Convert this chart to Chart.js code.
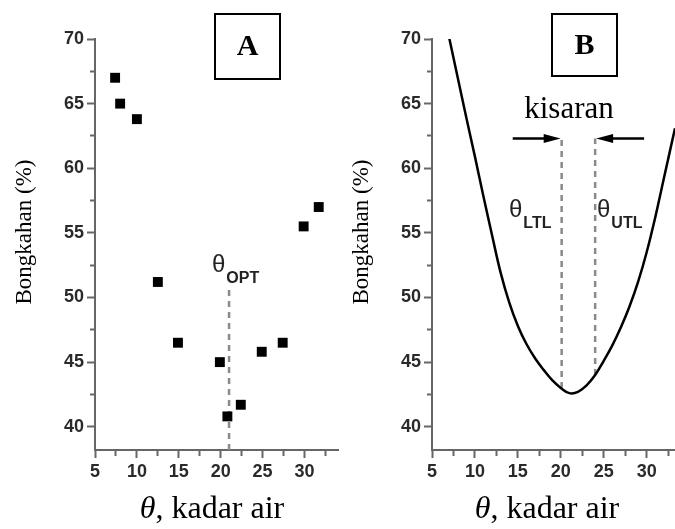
<!DOCTYPE html>
<html>
<head>
<meta charset="utf-8">
<script src="https://cdn.jsdelivr.net/npm/chart.js@4.4.0/dist/chart.umd.min.js"></script>
<style>
  body { margin: 0; background: #fff; }
  #wrap { position: relative; width: 675px; height: 529px; overflow: hidden; }
  #chartA { position: absolute; left: 0; top: 0; }
  #chartB { position: absolute; left: 345px; top: 0; }
</style>
</head>
<body>
<div id="wrap">
  <canvas id="chartA" width="345" height="529"></canvas>
  <canvas id="chartB" width="330" height="529"></canvas>
</div>
<script>
// panel A - titik pengamatan
const kadarAirA = [7.4, 8.0, 10.0, 12.5, 14.9, 19.9, 20.8, 22.4, 24.9, 27.4, 29.9, 31.7];
const bongkahanA = [67.0, 65.0, 63.8, 51.2, 46.5, 45.0, 40.8, 41.7, 45.8, 46.5, 55.5, 57.0];
const thetaOpt = 21.0;
const garisOpt = [38.2, 50.6];

// panel B - kurva
const kadarAirB = [7.0, 8, 9, 10, 11, 12, 13, 14, 15, 16, 17, 18, 19, 20, 21, 22, 23, 24, 25, 26, 27, 28, 29, 30, 31, 32, 33.3];
const bongkahanB = [70.1, 67.0, 63.9, 60.9, 57.8, 54.8, 51.9, 49.6, 47.8, 46.4, 45.3, 44.4, 43.6, 43.0, 42.6, 42.7, 43.2, 44.0, 45.1, 46.3, 47.7, 49.3, 51.2, 53.5, 56.2, 59.2, 63.1];
const thetaBatas = [20.1, 24.0];      // LTL, UTL
const bawahBatas = [43.0, 44.0];
const atasBatas = 62.3;
const panahDari = [14.4, 29.7];

// sumbu
const tickX = [5, 7.5, 10, 12.5, 15, 17.5, 20, 22.5, 25, 27.5, 30, 32.5];
const labelX = [5, 10, 15, 20, 25, 30];
const tickY = [40, 42.5, 45, 47.5, 50, 52.5, 55, 57.5, 60, 62.5, 65, 67.5, 70];
const labelY = [40, 45, 50, 55, 60, 65, 70];

const tickFont = { family: '"Liberation Sans", Arial, sans-serif', size: 18, weight: 'bold' };
const serif = '"Liberation Serif", "Times New Roman", serif';

function opsiSumbu(xMax, lebarY) {
  return {
    responsive: false,
    animation: false,
    layout: { padding: { top: 39, left: 0, right: 0, bottom: 0 } },
    plugins: { legend: { display: false }, tooltip: { enabled: false } },
    scales: {
      x: {
        type: 'linear', min: 5, max: xMax,
        afterBuildTicks: s => { s.ticks = tickX.map(v => ({ value: v })); },
        afterFit: s => { s.height = 79; },
        border: { display: true, color: '#666', width: 2 },
        grid: {
          drawOnChartArea: false, tickLength: 8, tickColor: '#666', tickWidth: 2,
          tickBorderDash: c => (c.tick && !labelX.includes(c.tick.value)) ? [5, 20] : []
        },
        ticks: {
          font: tickFont, color: '#2a2a2a', padding: 3, maxRotation: 0, autoSkip: false,
          callback: v => labelX.includes(v) ? String(v) : ''
        }
      },
      y: {
        type: 'linear', min: 38.2, max: 70,
        afterBuildTicks: s => { s.ticks = tickY.map(v => ({ value: v })); },
        afterFit: s => { s.width = lebarY; },
        border: { display: true, color: '#666', width: 2 },
        grid: {
          drawOnChartArea: false, tickLength: 8, tickColor: '#666', tickWidth: 2,
          tickBorderDash: c => (c.tick && !labelY.includes(c.tick.value)) ? [0, 3, 5, 20] : []
        },
        ticks: {
          font: tickFont, color: '#2a2a2a', padding: 3, autoSkip: false,
          callback: v => labelY.includes(v) ? String(v) : ''
        }
      }
    }
  };
}

function judulY(ctx, x, y) {
  ctx.save();
  ctx.translate(x, y);
  ctx.rotate(-Math.PI / 2);
  ctx.font = '23px ' + serif;
  ctx.fillStyle = '#000';
  ctx.textAlign = 'center';
  ctx.textBaseline = 'middle';
  ctx.fillText('Bongkahan (%)', 0, 0);
  ctx.restore();
}

function judulX(ctx, cx, base) {
  ctx.save();
  ctx.fillStyle = '#000';
  ctx.textBaseline = 'alphabetic';
  ctx.textAlign = 'left';
  ctx.font = 'italic 32px ' + serif;
  const w1 = ctx.measureText('θ').width;
  ctx.font = '32px ' + serif;
  const w2 = ctx.measureText(', kadar air').width;
  const x0 = cx - (w1 + w2) / 2;
  ctx.font = 'italic 32px ' + serif;
  ctx.fillText('θ', x0, base);
  ctx.font = '32px ' + serif;
  ctx.fillText(', kadar air', x0 + w1, base);
  ctx.restore();
}

function kotakHuruf(ctx, x1, y1, x2, y2, huruf) {
  ctx.save();
  ctx.strokeStyle = '#000';
  ctx.lineWidth = 2;
  ctx.strokeRect(x1, y1, x2 - x1, y2 - y1);
  ctx.font = 'bold 30px ' + serif;
  ctx.fillStyle = '#000';
  ctx.textAlign = 'center';
  ctx.textBaseline = 'middle';
  ctx.fillText(huruf, (x1 + x2) / 2, (y1 + y2) / 2 + 1);
  ctx.restore();
}

function teksTheta(ctx, x, base, sub) {
  ctx.save();
  ctx.fillStyle = '#222';
  ctx.textAlign = 'left';
  ctx.textBaseline = 'alphabetic';
  ctx.font = '24px "Liberation Sans", Arial, sans-serif';
  const w = ctx.measureText('θ').width;
  ctx.fillText('θ', x, base);
  ctx.font = 'bold 16px "Liberation Sans", Arial, sans-serif';
  ctx.fillText(sub, x + w + 1, base + 11);
  ctx.restore();
}

function panah(ctx, xa, xb, y) {
  const arah = xb > xa ? 1 : -1;
  ctx.save();
  ctx.strokeStyle = '#000';
  ctx.fillStyle = '#000';
  ctx.lineWidth = 2.5;
  ctx.beginPath();
  ctx.moveTo(xa, y);
  ctx.lineTo(xb - arah * 10, y);
  ctx.stroke();
  ctx.beginPath();
  ctx.moveTo(xb, y);
  ctx.lineTo(xb - arah * 17, y - 4.5);
  ctx.lineTo(xb - arah * 17, y + 4.5);
  ctx.closePath();
  ctx.fill();
  ctx.restore();
}

const anotasiA = {
  id: 'anotasiA',
  afterDraw(chart) {
    const ctx = chart.ctx;
    judulY(ctx, 25, 232);
    judulX(ctx, 212, 518);
    kotakHuruf(ctx, 215, 14, 280, 79, 'A');
    teksTheta(ctx, 212, 272, 'OPT');
  }
};

const anotasiB = {
  id: 'anotasiB',
  afterDraw(chart) {
    const ctx = chart.ctx;
    const sx = chart.scales.x, sy = chart.scales.y;
    judulY(ctx, 17, 232);
    judulX(ctx, 202, 518);
    kotakHuruf(ctx, 207, 14, 272, 76, 'B');
    ctx.save();
    ctx.font = '31px ' + serif;
    ctx.fillStyle = '#000';
    ctx.textAlign = 'center';
    ctx.fillText('kisaran', 224, 118);
    ctx.restore();
    const yp = sy.getPixelForValue(atasBatas);
    panah(ctx, sx.getPixelForValue(panahDari[0]), sx.getPixelForValue(thetaBatas[0]) - 1, yp);
    panah(ctx, sx.getPixelForValue(panahDari[1]), sx.getPixelForValue(thetaBatas[1]) + 1, yp);
    teksTheta(ctx, 164, 217, 'LTL');
    teksTheta(ctx, 252, 217, 'UTL');
  }
};

const gayaPutus = { borderColor: '#8a8a8a', borderWidth: 2.5, borderDash: [6, 5], pointRadius: 0, fill: false };

new Chart(document.getElementById('chartA').getContext('2d'), {
  type: 'scatter',
  data: {
    datasets: [
      {
        data: kadarAirA.map((x, i) => ({ x: x, y: bongkahanA[i] })),
        pointStyle: 'rect', pointRadius: 7, backgroundColor: '#000', borderWidth: 0
      },
      Object.assign({ type: 'line', data: garisOpt.map(y => ({ x: thetaOpt, y: y })) }, gayaPutus)
    ]
  },
  options: opsiSumbu(34.0, 95),
  plugins: [anotasiA]
});

new Chart(document.getElementById('chartB').getContext('2d'), {
  type: 'line',
  data: {
    datasets: [
      {
        data: kadarAirB.map((x, i) => ({ x: x, y: bongkahanB[i] })),
        borderColor: '#000', borderWidth: 2.5, pointRadius: 0, fill: false,
        tension: 0.4
      },
      Object.assign({ data: [{ x: thetaBatas[0], y: bawahBatas[0] }, { x: thetaBatas[0], y: atasBatas }] }, gayaPutus),
      Object.assign({ data: [{ x: thetaBatas[1], y: bawahBatas[1] }, { x: thetaBatas[1], y: atasBatas }] }, gayaPutus)
    ]
  },
  options: opsiSumbu(33.3, 87),
  plugins: [anotasiB]
});
</script>
</body>
</html>
